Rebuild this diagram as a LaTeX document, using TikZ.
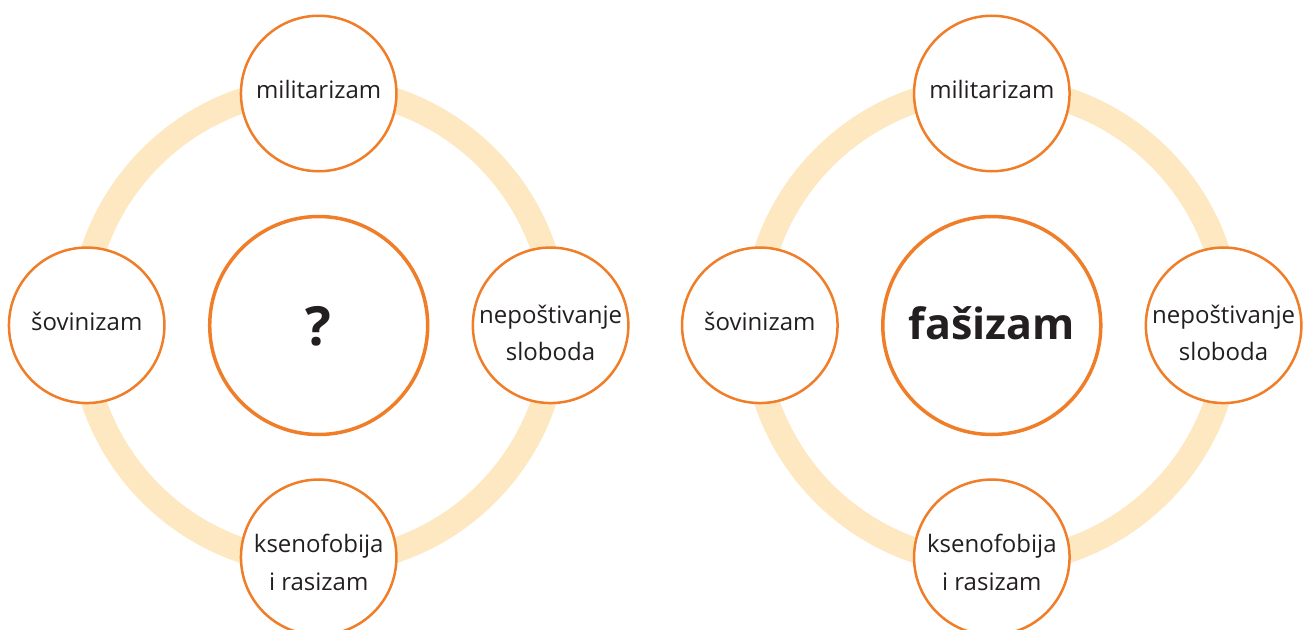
\documentclass[tikz,border=0pt]{standalone}
\usepackage{fontspec}
\setmainfont{Open Sans}
\usetikzlibrary{calc}
\definecolor{ringc}{RGB}{253,232,193}
\definecolor{orng}{RGB}{240,125,40}
\definecolor{txtc}{RGB}{35,31,32}
\begin{document}
\begin{tikzpicture}[x=1pt,y=-1pt,
  ringnode/.style={circle,draw=ringc,line width=25pt,minimum size=475pt,inner sep=0pt},
  sat/.style={circle,draw=orng,line width=2.5pt,fill=white,minimum size=155.5pt,inner sep=0pt},
  ctr/.style={circle,draw=orng,line width=3.5pt,fill=white,minimum size=218pt,inner sep=0pt},
  lbl/.style={text=txtc,inner sep=0pt,anchor=base,font=\fontsize{24}{30}\selectfont},
  big/.style={text=txtc,inner sep=0pt,anchor=base,font=\fontsize{43}{50}\selectfont\bfseries},
  q/.style={text=txtc,inner sep=0pt,anchor=base,font=\fontsize{54}{60}\selectfont\bfseries}]
\useasboundingbox (0,0) rectangle (1303,629);
% left diagram
\node[ringnode] (ringL) at (318.7,325.5) {};
\node[ctr] (ctrL) at (318.7,325.5) {};
\node[sat] (milL) at (318.7,93.5) {};
\node[sat] (sovL) at (86.7,325.3) {};
\node[sat] (nepL) at (550.6,325.3) {};
\node[sat] (ksenL) at (318.7,557.3) {};
\node[q] (ctrLt) at ($(ctrL)+(0,20)$) {?};
\node[lbl] (milLt) at ($(milL)+(0,5)$) {militarizam};
\node[lbl] (sovLt) at ($(sovL)+(0,5)$) {šovinizam};
\node[lbl] (nepLa) at ($(nepL)+(0,-2)$) {nepoštivanje};
\node[lbl] (nepLb) at ($(nepL)+(0,35)$) {sloboda};
\node[lbl] (ksenLa) at ($(ksenL)+(0,-4.5)$) {ksenofobija};
\node[lbl] (ksenLb) at ($(ksenL)+(0,33.5)$) {i rasizam};
% right diagram
\node[ringnode] (ringR) at (991.8,325.5) {};
\node[ctr] (ctrR) at (991.8,325.5) {};
\node[sat] (milR) at (991.8,93.5) {};
\node[sat] (sovR) at (759.8,325.3) {};
\node[sat] (nepR) at (1223.6,325.3) {};
\node[sat] (ksenR) at (991.8,557.3) {};
\node[big] (ctrRt) at ($(ctrR)+(0,14)$) {fašizam};
\node[lbl] (milRt) at ($(milR)+(0,5)$) {militarizam};
\node[lbl] (sovRt) at ($(sovR)+(0,5)$) {šovinizam};
\node[lbl] (nepRa) at ($(nepR)+(0,-2)$) {nepoštivanje};
\node[lbl] (nepRb) at ($(nepR)+(0,35)$) {sloboda};
\node[lbl] (ksenRa) at ($(ksenR)+(0,-4.5)$) {ksenofobija};
\node[lbl] (ksenRb) at ($(ksenR)+(0,33.5)$) {i rasizam};
\end{tikzpicture}
\end{document}
